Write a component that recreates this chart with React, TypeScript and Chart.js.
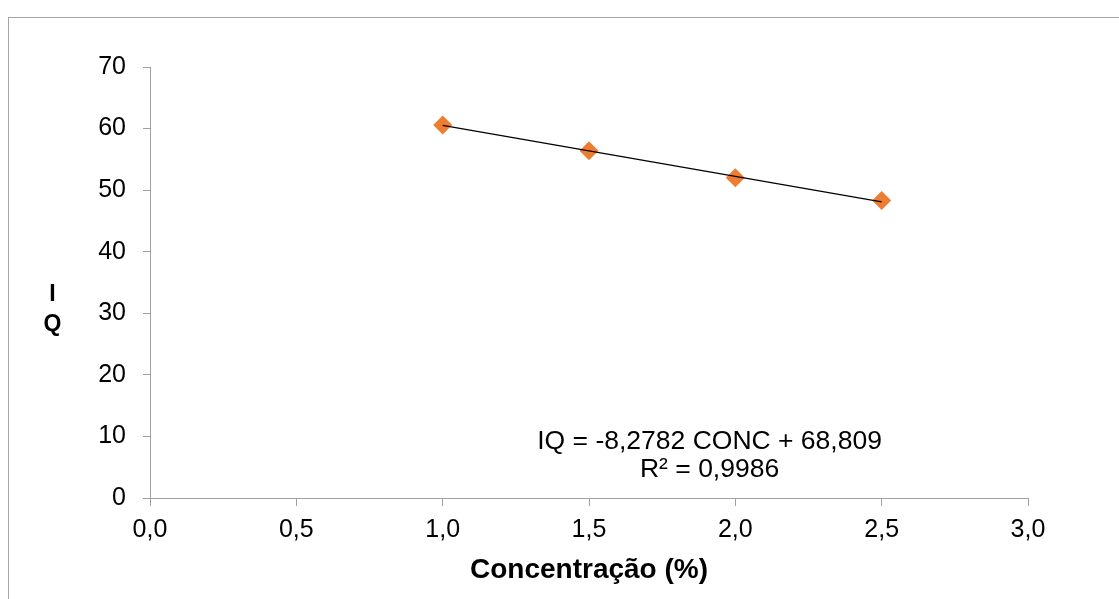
import React, { useEffect, useRef } from "react";
import { Chart, registerables } from "chart.js";

Chart.register(...registerables);

// ---- Data ----
const concentrations: number[] = [1.0, 1.5, 2.0, 2.5];
const iqValues: number[] = [60.6, 56.4, 52.0, 48.3];
const trendX: number[] = [1.0, 2.5];
const trendY: number[] = [60.53, 48.11];
const xTickValues: number[] = [0, 0.5, 1.0, 1.5, 2.0, 2.5, 3.0];
const yTickValues: number[] = [0, 10, 20, 30, 40, 50, 60, 70];
const xTitle = "Concentração (%)";
const yTitleLines: string[] = ["I", "Q"];
const equationLines: string[] = ["IQ = -8,2782 CONC + 68,809", "R² = 0,9986"];
const equationAnchor: number[] = [1.912, 9.34];

const FONT = '"Liberation Sans", Arial, Helvetica, sans-serif';
const AXIS_GRAY = "#a0a0a0";

const annotationPlugin = {
  id: "annotations",
  afterDatasetsDraw(chart: any) {
    const { ctx, chartArea, scales } = chart;
    ctx.save();
    ctx.fillStyle = "#000";
    ctx.textAlign = "center";
    ctx.textBaseline = "alphabetic";
    // Equation + R²
    ctx.font = `26.5px ${FONT}`;
    const ex = scales.x.getPixelForValue(equationAnchor[0]);
    const ey = scales.y.getPixelForValue(equationAnchor[1]);
    equationLines.forEach((line, i) => {
      ctx.fillText(line, ex, ey + 9 + i * 27.5);
    });
    // Stacked y-axis title
    ctx.font = `bold 23px ${FONT}`;
    const midY = (chartArea.top + chartArea.bottom) / 2;
    ctx.textBaseline = "alphabetic";
    yTitleLines.forEach((ch, i) => {
      ctx.fillText(ch, 43.5, midY + 18 + i * 30);
    });
    ctx.restore();
  },
};

export default function App() {
  const canvasRef = useRef<HTMLCanvasElement | null>(null);

  useEffect(() => {
    if (!canvasRef.current) return;
    const chart = new Chart(canvasRef.current, {
      type: "scatter",
      data: {
        datasets: [
          {
            label: "Linear (IQ)",
            data: trendX.map((x, i) => ({ x, y: trendY[i] })),
            showLine: true,
            borderColor: "#000000",
            borderWidth: 1.3,
            pointRadius: 0,
            order: 0,
          } as any,
          {
            label: "IQ",
            data: concentrations.map((x, i) => ({ x, y: iqValues[i] })),
            backgroundColor: "#ED7D31",
            borderWidth: 0,
            pointStyle: "rectRot",
            pointRadius: 9.5,
            order: 1,
          } as any,
        ],
      },
      options: {
        animation: false,
        responsive: false,
        devicePixelRatio: 1,
        layout: { padding: { left: 0, right: 91, top: 49, bottom: 0 } },
        plugins: {
          legend: { display: false },
          tooltip: { enabled: false },
        },
        scales: {
          x: {
            type: "linear",
            min: xTickValues[0],
            max: xTickValues[xTickValues.length - 1],
            afterBuildTicks: (s: any) => {
              s.ticks = xTickValues.map((v) => ({ value: v }));
            },
            afterFit: (s: any) => {
              s.height = 101;
            },
            ticks: {
              color: "#000",
              font: { family: FONT, size: 25 },
              padding: 9,
              maxRotation: 0,
              callback: (v: any) => Number(v).toFixed(1).replace(".", ","),
            },
            grid: {
              drawOnChartArea: false,
              drawTicks: true,
              tickLength: 8,
              color: AXIS_GRAY,
              lineWidth: 1,
            },
            border: { display: true, color: AXIS_GRAY, width: 1 },
            title: {
              display: true,
              text: xTitle,
              color: "#000",
              font: { family: FONT, size: 28, weight: "bold" },
              padding: { top: 0, bottom: 12 },
            },
          },
          y: {
            type: "linear",
            min: yTickValues[0],
            max: yTickValues[yTickValues.length - 1],
            afterBuildTicks: (s: any) => {
              s.ticks = yTickValues.map((v) => ({ value: v }));
            },
            afterFit: (s: any) => {
              s.width = 141;
            },
            ticks: {
              color: "#000",
              font: { family: FONT, size: 25 },
              padding: 17,
              callback: (v: any) => String(v),
            },
            grid: {
              drawOnChartArea: false,
              drawTicks: true,
              tickLength: 7,
              color: AXIS_GRAY,
              lineWidth: 1,
            },
            border: { display: true, color: AXIS_GRAY, width: 1 },
          },
        },
      } as any,
      plugins: [annotationPlugin],
    });
    return () => chart.destroy();
  }, []);

  return (
    <div
      style={{
        position: "fixed",
        left: 8,
        top: 17,
        width: 1111,
        height: 582,
        boxSizing: "border-box",
        borderLeft: "1px solid #a6a6a6",
        borderTop: "1px solid #a6a6a6",
        background: "#fff",
      }}
    >
      <canvas ref={canvasRef} width={1110} height={581} style={{ display: "block" }} />
    </div>
  );
}
